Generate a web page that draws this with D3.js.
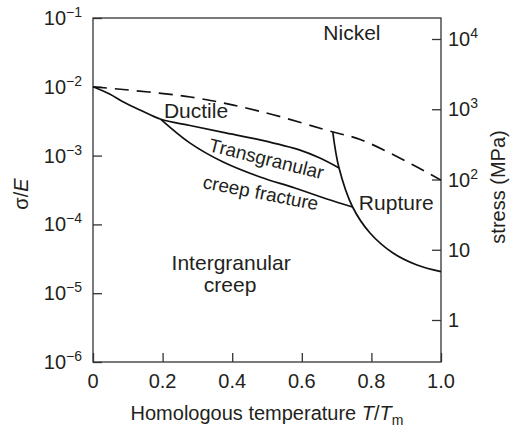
<!DOCTYPE html>
<html>
<head>
<meta charset="utf-8">
<script src="https://cdn.jsdelivr.net/npm/d3@7"></script>
<style>
  html, body { margin: 0; padding: 0; background: #fff; }
  svg { display: block; font-family: "Liberation Sans", Arial, Helvetica, sans-serif; }
</style>
</head>
<body>
<svg id="chart" width="510" height="431"></svg>
<script>
// Axis ticks
const tempTicks = [0, 0.2, 0.4, 0.6, 0.8, 1.0];
const ratioTicks = [1e-6, 1e-5, 1e-4, 1e-3, 1e-2, 1e-1];
const ratioExponents = ["−6", "−5", "−4", "−3", "−2", "−1"];
const stressTicks = [1, 10, 100, 1000, 10000];
const stressBase = ["1", "10", "10", "10", "10"];
const stressExponents = ["", "", "2", "3", "4"];

// Ideal strength limit (dashed)
const limitT = [0, 0.28, 0.48, 0.69, 0.77, 0.92, 1.0];
const limitS = [1.0e-2, 7.1e-3, 4.4e-3, 2.2e-3, 1.7e-3, 7.3e-4, 4.4e-4];

// Boundary from T = 0 to the ductile / transgranular junction
const lowTempT = [0, 0.049, 0.086, 0.135, 0.195];
const lowTempS = [1.0e-2, 7.8e-3, 6.07e-3, 4.6e-3, 3.37e-3];

// Ductile / transgranular creep fracture boundary
const ductileT = [0.195, 0.279, 0.374, 0.48, 0.595, 0.652, 0.707];
const ductileS = [3.37e-3, 2.74e-3, 2.17e-3, 1.69e-3, 1.2e-3, 9.2e-4, 6.6e-4];

// Transgranular / intergranular creep fracture boundary
const transT = [0.195, 0.279, 0.374, 0.48, 0.58, 0.672, 0.746];
const transS = [3.37e-3, 1.52e-3, 8.07e-4, 4.89e-4, 3.38e-4, 2.34e-4, 1.79e-4];

// Rupture boundary
const ruptureT = [0.689, 0.707, 0.746, 0.796, 0.862, 0.931, 1.0];
const ruptureS = [2.2e-3, 6.6e-4, 1.79e-4, 7.5e-5, 3.84e-5, 2.57e-5, 2.06e-5];

// Field labels (placed in data coordinates)
const fieldNames = ["Nickel", "Ductile", "Rupture", "Intergranular", "creep"];
const fieldT = [0.744, 0.296, 0.764, 0.397, 0.394];
const fieldS = [0.0479, 3.52e-3, 1.62e-4, 2.17e-5, 1.04e-5];

const svg = d3.select("#chart");
const ink = "#231f20";

const x = d3.scaleLinear().domain([0, 1]).range([93, 441]);
const y = d3.scaleLog().domain([1e-6, 1e-1]).range([362, 18]);
const yStress = d3.scaleLog().domain([1, 1e4]).range([320, 39]);

// Axes with inward ticks
const axisStyle = g => {
  g.select(".domain").remove();
  g.selectAll(".tick line").attr("stroke", "#333").attr("stroke-width", 1.3);
  g.selectAll(".tick text").remove();
};

svg.append("g").attr("transform", "translate(93,0)")
  .call(d3.axisLeft(y).tickValues(ratioTicks).tickSizeInner(-9).tickSizeOuter(0).tickFormat(() => ""))
  .call(axisStyle);

svg.append("g").attr("transform", "translate(0,362)")
  .call(d3.axisBottom(x).tickValues(tempTicks).tickSizeInner(-9).tickSizeOuter(0).tickFormat(() => ""))
  .call(axisStyle);

svg.append("g").attr("transform", "translate(441,0)")
  .call(d3.axisRight(yStress).tickValues(stressTicks).tickSizeInner(-9).tickSizeOuter(0).tickFormat(() => ""))
  .call(axisStyle);

// Frame
svg.append("rect")
  .attr("x", x(0)).attr("y", y(1e-1))
  .attr("width", x(1) - x(0)).attr("height", y(1e-6) - y(1e-1))
  .attr("fill", "none").attr("stroke", "#333").attr("stroke-width", 1.3);

// Tick labels
const leftLabels = svg.append("g").attr("fill", ink).attr("font-size", 20);
ratioTicks.forEach((v, i) => {
  const t = leftLabels.append("text")
    .attr("x", 82).attr("y", y(v) + 7).attr("text-anchor", "end");
  t.append("tspan").text("10");
  t.append("tspan").attr("font-size", 14).attr("dy", -8).text(ratioExponents[i]);
});

const rightLabels = svg.append("g").attr("fill", ink).attr("font-size", 20);
stressTicks.forEach((v, i) => {
  const t = rightLabels.append("text")
    .attr("x", 448).attr("y", yStress(v) + 7).attr("text-anchor", "start");
  t.append("tspan").text(stressBase[i]);
  if (stressExponents[i]) {
    t.append("tspan").attr("font-size", 14).attr("dy", -8).text(stressExponents[i]);
  }
});

svg.append("g").attr("fill", ink).attr("font-size", 20)
  .selectAll("text").data(tempTicks).join("text")
  .attr("x", d => x(d)).attr("y", 388).attr("text-anchor", "middle")
  .text(d => d === 0 ? "0" : d.toFixed(1));

// Axis titles
const xTitle = svg.append("text")
  .attr("x", 267).attr("y", 420).attr("text-anchor", "middle")
  .attr("fill", ink).attr("font-size", 20);
xTitle.append("tspan").text("Homologous temperature ");
xTitle.append("tspan").attr("font-style", "italic").text("T");
xTitle.append("tspan").text("/");
xTitle.append("tspan").attr("font-style", "italic").text("T");
xTitle.append("tspan").attr("font-size", 14).attr("dy", 5).text("m");

const yTitle = svg.append("text")
  .attr("transform", "translate(28,194) rotate(-90)")
  .attr("text-anchor", "middle").attr("fill", ink).attr("font-size", 20);
yTitle.append("tspan").text("σ/");
yTitle.append("tspan").attr("font-style", "italic").text("E");

svg.append("text")
  .attr("transform", "translate(505,187) rotate(-90)")
  .attr("text-anchor", "middle").attr("fill", ink).attr("font-size", 20)
  .text("stress (MPa)");

// Curves
const line = d3.line()
  .x(d => x(d[0])).y(d => y(d[1]))
  .curve(d3.curveCatmullRom.alpha(0.5));

const zip = (a, b) => a.map((v, i) => [v, b[i]]);

svg.append("path")
  .attr("d", line(zip(limitT, limitS)))
  .attr("fill", "none").attr("stroke", "#111").attr("stroke-width", 1.7)
  .attr("stroke-dasharray", "14,8");

const solid = [
  zip(lowTempT, lowTempS).concat(zip(ductileT, ductileS).slice(1)),
  zip(transT, transS),
  zip(ruptureT, ruptureS)
];
svg.append("g").selectAll("path").data(solid).join("path")
  .attr("d", d => line(d))
  .attr("fill", "none").attr("stroke", "#111").attr("stroke-width", 1.7);

// Field labels
svg.append("g").attr("fill", ink).attr("font-size", 21)
  .selectAll("text").data(fieldNames).join("text")
  .attr("x", (d, i) => x(fieldT[i])).attr("y", (d, i) => y(fieldS[i]))
  .attr("text-anchor", d => d === "Rupture" ? "start" : "middle")
  .text(d => d);

svg.append("text")
  .attr("transform", `translate(${x(0.330)},${y(1.17e-3)}) rotate(14)`)
  .attr("fill", ink).attr("font-size", 19).text("Transgranular");

svg.append("text")
  .attr("transform", `translate(${x(0.313)},${y(3.38e-4)}) rotate(11)`)
  .attr("fill", ink).attr("font-size", 19).text("creep fracture");
</script>
</body>
</html>
